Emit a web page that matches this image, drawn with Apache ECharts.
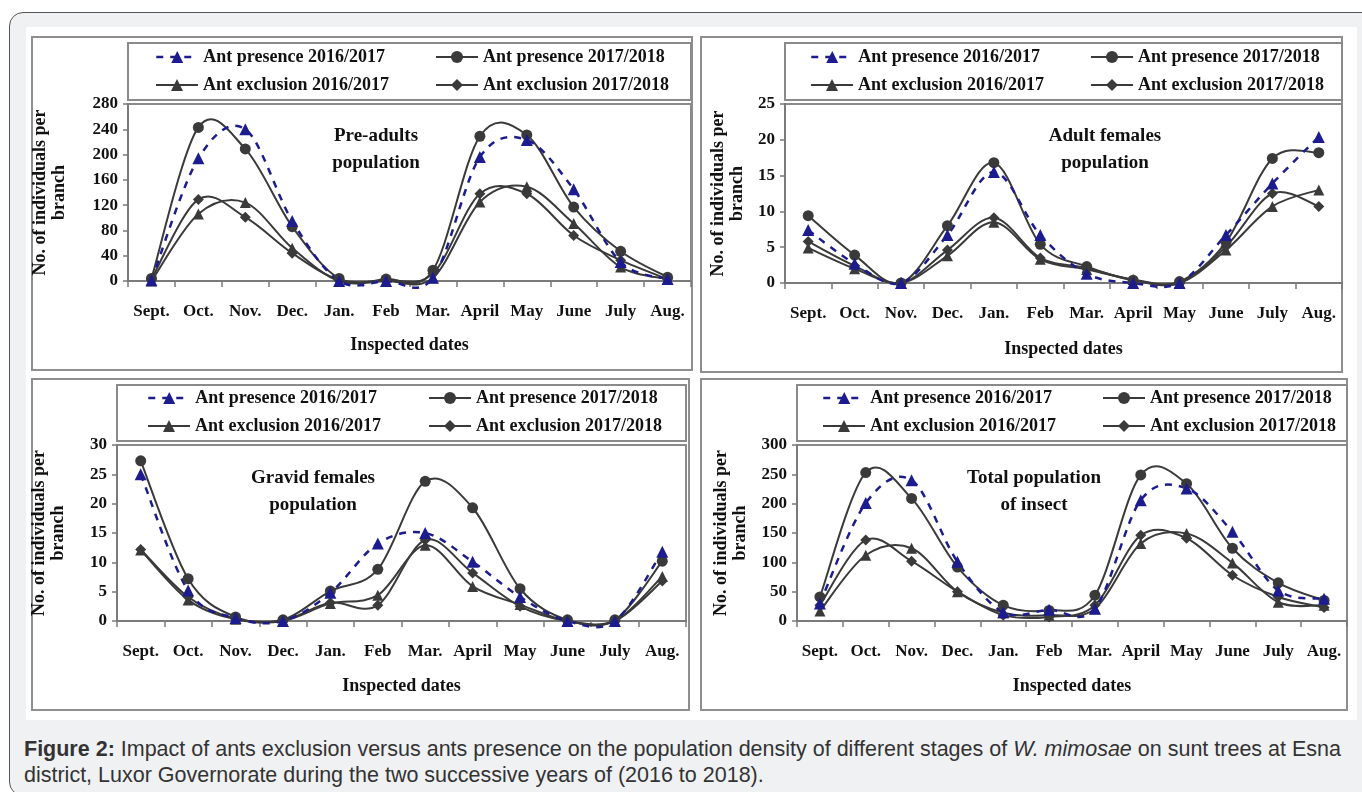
<!DOCTYPE html>
<html>
<head>
<meta charset="utf-8">
<script src="https://cdn.jsdelivr.net/npm/echarts@6/dist/echarts.min.js"></script>
<style>
html,body{margin:0;padding:0;background:#fff;width:1362px;height:792px;overflow:hidden;}
#frame{position:absolute;left:9px;top:12px;width:1400px;height:782px;border:1.5px solid #555;border-radius:14px;background:#f0f1f3;}
#sheet{position:absolute;left:26px;top:27px;width:1331px;height:693px;background:#fff;}
.panel{position:absolute;border:2px solid #8e8e8e;box-sizing:border-box;background:#fff;}
.chart{position:absolute;}
#caption{position:absolute;left:24px;top:736px;width:1334px;font-family:"Liberation Sans",Arial,sans-serif;font-size:21.5px;line-height:26px;color:#333;}
</style>
</head>
<body>
<div id="frame"></div>
<div id="sheet"></div>
<div id="caption"><b>Figure 2:</b> Impact of ants exclusion versus ants presence on the population density of different stages of <i>W. mimosae</i> on sunt trees at Esna district, Luxor Governorate during the two successive years of (2016 to 2018).</div>
<script>
// Inspection months (Sept. to Aug.)
const months = ['Sept.', 'Oct.', 'Nov.', 'Dec.', 'Jan.', 'Feb', 'Mar.', 'April', 'May', 'June', 'July', 'Aug.'];

const seriesNames = ['Ant presence 2016/2017', 'Ant presence 2017/2018', 'Ant exclusion 2016/2017', 'Ant exclusion 2017/2018'];

// Pre-adults population
const preAdultsPresence1617  = [1, 194, 240, 95, 0, 0, 5, 196, 223, 145, 30, 3];
const preAdultsPresence1718  = [4, 243, 209, 86, 4, 3, 17, 229, 231, 117, 47, 6];
const preAdultsExclusion1617 = [0, 106, 124, 52, 0, 0, 5, 125, 149, 91, 22, 3];
const preAdultsExclusion1718 = [3, 129, 101, 44, 2, 1, 12, 138, 138, 72, 33, 3];

// Adult females population
const adultPresence1617  = [7.4, 2.7, 0, 6.7, 15.5, 6.7, 1.3, 0, 0, 6.7, 13.9, 20.4];
const adultPresence1718  = [9.4, 3.9, 0, 8.0, 16.8, 5.4, 2.3, 0.4, 0.2, 5.7, 17.4, 18.2];
const adultExclusion1617 = [4.9, 2.0, 0, 3.8, 8.5, 3.3, 1.9, 0.5, 0, 4.6, 10.7, 13.0];
const adultExclusion1718 = [5.8, 2.4, 0, 4.6, 9.1, 3.5, 2.1, 0.4, 0, 5.1, 12.5, 10.7];

// Gravid females population
const gravidPresence1617  = [25.0, 5.2, 0.5, 0, 4.8, 13.2, 15.0, 10.1, 4.1, 0, 0, 11.8];
const gravidPresence1718  = [27.3, 7.2, 0.7, 0.2, 5.1, 8.8, 23.8, 19.3, 5.5, 0.2, 0.2, 10.2];
const gravidExclusion1617 = [12.1, 3.6, 0.3, 0, 3.0, 4.4, 12.9, 5.9, 2.8, 0, 0, 7.6];
const gravidExclusion1718 = [12.2, 4.1, 0.4, 0.1, 3.1, 2.7, 13.8, 8.2, 2.5, 0, 0, 6.8];

// Total population of insect
const totalPresence1617  = [30, 201, 240, 101, 15, 19, 21, 206, 226, 152, 52, 38];
const totalPresence1718  = [41, 253, 209, 92, 27, 18, 44, 249, 234, 124, 65, 35];
const totalExclusion1617 = [17, 112, 124, 50, 14, 10, 21, 132, 149, 99, 32, 27];
const totalExclusion1718 = [27, 138, 102, 50, 10, 7, 27, 146, 141, 78, 41, 23];

// Y axis ranges
const yRanges = {
  preAdults: {max: 280, interval: 40},
  adult:     {max: 25,  interval: 5},
  gravid:    {max: 30,  interval: 5},
  total:     {max: 300, interval: 50}
};

const panelTitles = {
  preAdults: 'Pre-adults\npopulation',
  adult: 'Adult females\npopulation',
  gravid: 'Gravid females\npopulation',
  total: 'Total population\nof insect'
};

const SERIF = '"Liberation Serif", "Times New Roman", serif';
const DARK = '#3a3a3a';
const BLUE = '#1c1c8e';

// Per-series marker and line look
const seriesLook = [
  {symbol: 'triangle', size: 12, color: BLUE, dash: [7, 7], width: 2.5, z: 5, lineZ: 3},
  {symbol: 'circle',   size: 11, color: DARK, dash: 'solid', width: 2, z: 4, lineZ: 2},
  {symbol: 'triangle', size: 11, color: DARK, dash: 'solid', width: 2, z: 4, lineZ: 2},
  {symbol: 'diamond',  size: 11, color: DARK, dash: 'solid', width: 2, z: 4, lineZ: 2}
];

// Panel layout (page pixels for the box; panel-relative for the rest)
const layouts = [
  {key: 'preAdults', data: [preAdultsPresence1617, preAdultsPresence1718, preAdultsExclusion1617, preAdultsExclusion1718],
   box: [31, 36, 662, 335], grid: [97, 68, 563, 177], legendCols: [124, 404], legendRows: [22, 50],
   titleAt: [345, 87], yNameGap: 59, xNameGap: 55},
  {key: 'adult', data: [adultPresence1617, adultPresence1718, adultExclusion1617, adultExclusion1718],
   box: [700, 36, 643, 337], grid: [85, 68, 557, 179], legendCols: [110, 390], legendRows: [22, 50],
   titleAt: [405, 87], yNameGap: 38, xNameGap: 57},
  {key: 'gravid', data: [gravidPresence1617, gravidPresence1718, gravidExclusion1617, gravidExclusion1718],
   box: [31, 378, 659, 333], grid: [86, 67, 569, 176], legendCols: [116, 397], legendRows: [21, 49],
   titleAt: [282, 87], yNameGap: 49, xNameGap: 56},
  {key: 'total', data: [totalPresence1617, totalPresence1718, totalExclusion1617, totalExclusion1718],
   box: [700, 378, 648, 333], grid: [97, 67, 550, 176], legendCols: [122, 402], legendRows: [21, 49],
   titleAt: [334, 87], yNameGap: 47, xNameGap: 56}
];

const textBase = {fontFamily: SERIF, fontWeight: 'bold', color: '#111'};

// Smooth curve through the points (Catmull-Rom converted to cubic Bezier),
// positioned with the chart's own coordinate system.
function curveRenderer(vals, look) {
  return function (params, api) {
    const p = vals.map((v, i) => api.coord([i, v]));
    let d = 'M' + p[0][0] + ',' + p[0][1];
    for (let i = 0; i < p.length - 1; i++) {
      const p0 = p[i - 1] || p[i], p1 = p[i], p2 = p[i + 1], p3 = p[i + 2] || p[i + 1];
      const c1x = p1[0] + (p2[0] - p0[0]) / 6, c1y = p1[1] + (p2[1] - p0[1]) / 6;
      const c2x = p2[0] - (p3[0] - p1[0]) / 6, c2y = p2[1] - (p3[1] - p1[1]) / 6;
      d += ' C' + c1x + ',' + c1y + ' ' + c2x + ',' + c2y + ' ' + p2[0] + ',' + p2[1];
    }
    return {
      type: 'path',
      shape: {pathData: d},
      style: {fill: 'none', stroke: look.color, lineWidth: look.width, lineDash: look.dash === 'solid' ? null : look.dash},
      silent: true
    };
  };
}

function buildPanel(L) {
  const [bx, by, bw, bh] = L.box;
  const frame = document.createElement('div');
  frame.className = 'panel';
  frame.style.cssText = `left:${bx}px;top:${by}px;width:${bw}px;height:${bh}px;`;
  document.body.appendChild(frame);
  const el = document.createElement('div');
  el.className = 'chart';
  el.style.cssText = `left:${bx}px;top:${by}px;width:${bw}px;height:${bh}px;`;
  document.body.appendChild(el);

  const [gl, gt, gw, gh] = L.grid;
  const range = yRanges[L.key];

  const series = [];
  L.data.forEach((vals, i) => {
    const s = seriesLook[i];
    // curve
    series.push({
      type: 'custom',
      name: seriesNames[i] + ' curve',
      coordinateSystem: 'cartesian2d',
      data: [[0, vals[0]]],
      renderItem: curveRenderer(vals, s),
      clip: false,
      z: s.lineZ,
      silent: true,
      animation: false
    });
    // markers
    series.push({
      name: seriesNames[i],
      type: 'line',
      data: vals,
      symbol: s.symbol,
      symbolSize: s.size,
      showSymbol: true,
      z: s.z,
      itemStyle: {color: s.color},
      lineStyle: {color: s.color, width: s.width, type: s.dash, opacity: 0},
      emphasis: {disabled: true},
      animation: false
    });
  });

  const legends = seriesNames.map((n, i) => {
    const s = seriesLook[i];
    return {
      data: [n],
      left: L.legendCols[i % 2],
      top: L.legendRows[Math.floor(i / 2)] - 10,
      padding: 0,
      itemWidth: 42,
      itemHeight: 15,
      selectedMode: false,
      lineStyle: {color: s.color, width: s.width, type: s.dash, opacity: 1},
      textStyle: Object.assign({fontSize: 18}, textBase)
    };
  });

  const chart = echarts.init(el, null, {renderer: 'canvas'});
  chart.setOption({
    animation: false,
    legend: legends,
    grid: {left: gl, top: gt, width: gw, height: gh, outerBoundsMode: 'none', containLabel: false,
           show: true, borderColor: '#8a8a8a', borderWidth: 2, backgroundColor: 'transparent'},
    graphic: [
      {type: 'rect', shape: {x: gl, y: 7, width: gw, height: gt - 11}, style: {fill: 'none', stroke: '#8a8a8a', lineWidth: 2}, silent: true},
      {type: 'text', x: L.titleAt[0], y: L.titleAt[1], style: {text: panelTitles[L.key], align: 'center', verticalAlign: 'top', lineHeight: 27, font: `bold 19px ${SERIF}`, fill: '#111'}, silent: true}
    ],
    xAxis: {
      type: 'category',
      data: months,
      boundaryGap: true,
      name: 'Inspected dates',
      nameLocation: 'middle',
      nameGap: L.xNameGap,
      nameTextStyle: Object.assign({fontSize: 18}, textBase),
      axisLine: {lineStyle: {color: '#7a7a7a', width: 2}},
      axisTick: {show: true, inside: false, length: 6, lineStyle: {color: '#7a7a7a', width: 1.5}},
      axisLabel: Object.assign({fontSize: 17, margin: 22, interval: 0}, textBase),
      splitLine: {show: false}
    },
    yAxis: {
      type: 'value',
      min: 0,
      max: range.max,
      interval: range.interval,
      name: 'No. of individuals per\nbranch',
      nameLocation: 'middle',
      nameRotate: 90,
      nameGap: L.yNameGap,
      nameTextStyle: Object.assign({fontSize: 18, lineHeight: 19}, textBase),
      axisLine: {show: true, lineStyle: {color: '#7a7a7a', width: 2}},
      axisTick: {show: true, inside: false, length: 5, lineStyle: {color: '#7a7a7a', width: 1.5}},
      axisLabel: Object.assign({fontSize: 17, margin: 10}, textBase),
      splitLine: {show: false}
    },
    series: series
  });
}

layouts.forEach(buildPanel);
</script>
</body>
</html>
